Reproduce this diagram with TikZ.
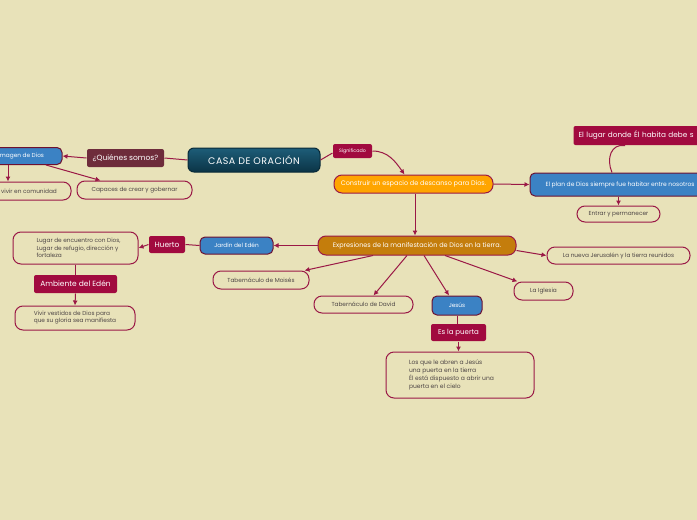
\documentclass[tikz,border=0pt]{standalone}
\usepackage{fontspec}
\setmainfont{Poppins}
\usetikzlibrary{arrows.meta,calc,positioning}
\definecolor{paper}{HTML}{E8E2B9}
\definecolor{wine}{HTML}{A10A3F}
\definecolor{wireC}{HTML}{9A1846}
\definecolor{plum}{HTML}{6E2C3B}
\definecolor{sky}{HTML}{3B82C4}
\definecolor{gold}{HTML}{FFA500}
\definecolor{ochre}{HTML}{C47D0C}
\definecolor{petrolT}{HTML}{1D5D78}
\definecolor{petrolB}{HTML}{0B3446}
\definecolor{ink}{HTML}{4D4545}
\newcommand{\fs}[1]{\fontsize{#1}{#1}\selectfont}
\tikzset{
  basebox/.style={rounded corners=8pt,align=center,inner sep=0pt,line width=1pt},
  pillbox/.style={basebox,draw=wireC,fill=paper,text=ink,font=\fs{5.8}},
  tagbox/.style={basebox,rounded corners=2pt,fill=wine,text=white,font=\fs{7.5}},
  bluebox/.style={basebox,rounded corners=5pt,draw=wireC!70!black,fill=sky,text=white,font=\fs{5.8}},
  arrow/.style={-{Latex[length=5pt,width=5pt]},line width=1pt,draw=wireC},
  link/.style={line width=1pt,draw=wireC}
}
\begin{document}
\begin{tikzpicture}[
    x=1pt,y=-1pt,
    rootbox/.style={basebox,rounded corners=6pt,draw=petrolB!80!black,top color=petrolT,bottom color=petrolB,text=white,font=\fs{9.5}\addfontfeature{LetterSpace=5}},
    textbox/.style={pillbox,align=left}
  ]
    \useasboundingbox (0,0) rectangle (697,520);
    \fill[paper] (0,0) rectangle (697,520);

    \node[rootbox,minimum width=132,minimum height=24] (casa) at (254,160) {CASA DE ORACIÓN};

    % left branch
    \node[tagbox,fill=plum,minimum width=77,minimum height=18] (quien) at (125.5,158) {¿Quiénes somos?};
    \node[bluebox,minimum width=80,minimum height=17] (imagen) at (22,156) {magen de Dios};
    \node[pillbox,minimum width=84,minimum height=18] (comun) at (29,191) {vivir en comunidad};
    \node[pillbox,minimum width=115,minimum height=18] (capaz) at (134.5,190) {Capaces de crear y gobernar};

    % upper right branch
    \node[tagbox,font=\fs{4.8},minimum width=39,minimum height=14] (signif) at (352.5,151) {Significado};
    \node[pillbox,fill=gold,text=white,font=\fs{6.5},minimum width=159,minimum height=18] (construir) at (413.5,184) {Construir un espacio de descanso para Dios.};
    \node[bluebox,font=\fs{6},minimum width=180,minimum height=23] (plan) at (620,184.5) {El plan de Dios siempre fue habitar entre nosotros};
    \node[tagbox,font=\fs{7.3},anchor=west,inner xsep=5pt,text width=145pt,minimum height=19,align=left] (lugar) at (573,135.5) {El lugar donde Él habita debe s};
    \node[pillbox,minimum width=83,minimum height=16] (entrar) at (618.5,214) {Entrar y permanecer};

    % expresiones
    \node[pillbox,fill=ochre,text=white,font=\fs{6.5},minimum width=198,minimum height=19] (expr) at (417,245.5) {Expresiones de la manifestación de Dios en la tierra.};
    \node[bluebox,minimum width=73,minimum height=17] (jardin) at (236.5,245.5) {Jardín del Edén};
    \node[tagbox,minimum width=36,minimum height=17] (huerto) at (167,244.5) {Huerto};
    \node[textbox,minimum width=125,minimum height=32] (encuentro) at (75.5,248) {\hspace*{10pt}\parbox{88pt}{\baselineskip=7.5pt Lugar de encuentro con Dios,\\Lugar de refugio, dirección y\\fortaleza}};
    \node[tagbox,minimum width=83,minimum height=18] (ambiente) at (75.5,284) {Ambiente del Edén};
    \node[textbox,minimum width=120,minimum height=24] (vestidos) at (75,318) {\baselineskip=8pt Vivir vestidos de Dios para\\que su gloria sea manifiesta};
    \node[pillbox,minimum width=96,minimum height=18] (moises) at (261,280) {Tabernáculo de Moisés};
    \node[pillbox,minimum width=99,minimum height=17] (david) at (363.5,304.5) {Tabernáculo de David};
    \node[bluebox,minimum width=50,minimum height=19] (jesus) at (457,305.5) {Jesús};
    \node[pillbox,minimum width=59,minimum height=18] (iglesia) at (543.5,291) {La Iglesia};
    \node[pillbox,minimum width=143,minimum height=17] (jerus) at (618.5,255.5) {La nueva Jerusalén y la tierra reunidos};
    \node[tagbox,font=\fs{7},minimum width=55,minimum height=17] (puerta) at (458.5,332.5) {Es la puerta};
    \node[textbox,font=\fs{6},minimum width=148,minimum height=46] (abren) at (460,375) {\hspace*{10pt}\parbox{112pt}{\baselineskip=8pt Los que le abren a Jesús\\una puerta en la tierra\\Él está dispuesto a abrir una\\puerta en el cielo}};

    \draw[link] (casa.west) -- (quien.east);
    \draw[arrow] (quien.west) -- (imagen.east);
    \draw[arrow] ([xshift=-14pt]imagen.south) -- ([xshift=-14pt]imagen.south |- comun.north);
    \draw[arrow] ([xshift=24pt]imagen.south) -- ([xshift=-34pt]capaz.north);

    \draw[link] (casa.east) -- ([yshift=-2pt]signif.west);
    \draw[arrow] (signif.east) to[out=0,in=125] ([xshift=-9pt]construir.north);
    \draw[arrow] (construir.east) -- (plan.west);
    \draw[link] ([xshift=-8pt]plan.north) .. controls +(-6,-14) and +(-14,-2) .. ([xshift=52pt]lugar.south west);
    \draw[arrow] (plan.south -| entrar.north) -- (entrar.north);
    \draw[arrow] ([xshift=1.5pt]construir.south) -- ([xshift=1.5pt]construir.south |- expr.north);

    \draw[arrow] (expr.west) -- (jardin.east);
    \draw[link] (jardin.west) -- (huerto.east);
    \draw[arrow] (huerto.west) -- (encuentro.east);
    \draw[link] (encuentro.south) -- (ambiente.north);
    \draw[arrow] (ambiente.south) -- (vestidos.north);
    \draw[arrow] ([xshift=-44pt]expr.south) -- ([xshift=-5pt]moises.north east);
    \draw[arrow] ([xshift=-10pt]expr.south) -- ([xshift=10pt]david.north);
    \draw[arrow] ([xshift=7pt]expr.south) -- ([xshift=-8pt]jesus.north);
    \draw[arrow] ([xshift=28pt]expr.south) -- ([xshift=4pt]iglesia.north west);
    \draw[arrow] ([yshift=-5pt]expr.east) -- (jerus.west);
    \draw[link] (jesus.south) -- (jesus.south |- puerta.north);
    \draw[arrow] (puerta.south) -- (puerta.south |- abren.north);
\end{tikzpicture}
\end{document}
